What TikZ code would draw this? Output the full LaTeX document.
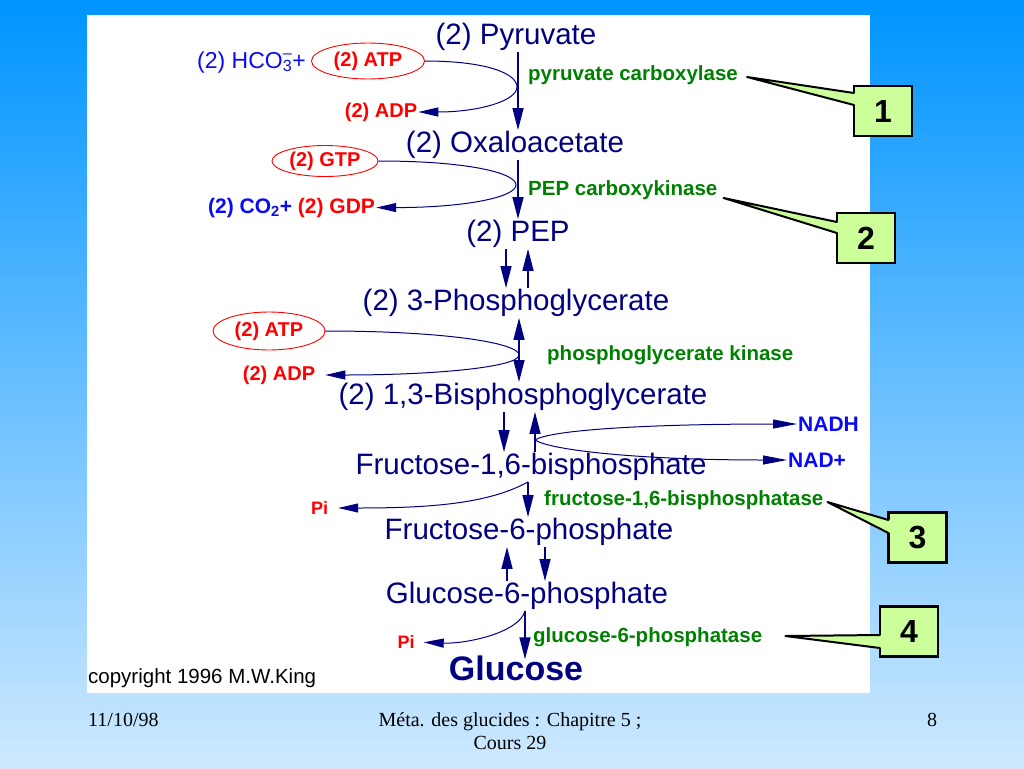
\documentclass[tikz,border=0pt]{standalone}
\usepackage{fontspec}
\setmainfont{Liberation Serif}
\setsansfont{Liberation Sans}
\usepackage{tikz}
\usetikzlibrary{calc}
\usetikzlibrary{arrows.meta}
\usetikzlibrary{shapes.geometric}
\definecolor{skytop}{RGB}{0, 148, 255}
\definecolor{skybottom}{RGB}{206, 233, 255}
\definecolor{navyink}{RGB}{0, 0, 128}
\definecolor{enzgreen}{RGB}{0, 128, 0}
\definecolor{cofred}{RGB}{255, 0, 0}
\definecolor{cofblue}{RGB}{10, 10, 245}
\definecolor{calloutlime}{RGB}{204, 255, 153}

\tikzset{
    metab/.style    = {text=navyink, inner sep=1pt, font=\sffamily\fontsize{29.5}{32}\selectfont},
    enzyme/.style   = {text=enzgreen, inner sep=1pt, anchor=west, font=\sffamily\bfseries\fontsize{20.5}{24}\selectfont},
    cofactor/.style = {text=cofred, inner sep=1pt, font=\sffamily\bfseries\fontsize{20}{24}\selectfont},
    cofoval/.style  = {cofactor, ellipse, draw=cofred, line width=0.9pt, inner sep=0pt},
    carrier/.style  = {text=cofblue, inner sep=1pt, font=\sffamily\bfseries\fontsize{21}{24}\selectfont},
    fwd/.style      = {draw=navyink, line width=1.4pt, -{Triangle[length=22pt,width=11pt]}},
    twoway/.style   = {draw=navyink, line width=1.4pt, {Triangle[length=22pt,width=11pt]}-{Triangle[length=22pt,width=11pt]}},
    sidearr/.style  = {draw=navyink, line width=1pt, -{Triangle[length=20pt,width=9pt]}},
    sidepair/.style = {draw=navyink, line width=1pt, {Triangle[length=24pt,width=9pt]}-{Triangle[length=24pt,width=9pt]}},
    numbox/.style   = {draw=black, fill=calloutlime, line width=2.2pt, minimum width=58pt, minimum height=50pt, inner sep=0pt, font=\sffamily\bfseries\fontsize{32}{36}\selectfont},
    wedgeline/.style= {draw=black, line width=2pt, line join=round, line cap=round}
}

\begin{document}
\begin{tikzpicture}[x=1pt, y=-1pt]
    \useasboundingbox (0,0) rectangle (1024,768);
    \shade[top color=skytop, bottom color=skybottom] (0,0) rectangle (1024,768);
    \fill[white]                                     (87,15) rectangle (870,693);

    \node[metab] (pyr) at (516,37)  {(2) Pyruvate};
    \node[metab] (oxa) at (515,145) {(2) Oxaloacetate};
    \node[metab] (pep) at (518,234) {(2) PEP};
    \node[metab] (pga) at (516,303) {(2) 3-Phosphoglycerate};
    \node[metab] (bpg) at (523,397) {(2) 1,3-Bisphosphoglycerate};
    \node[metab] (fbp) at (531,467) {Fructose-1,6-bisphosphate};
    \node[metab] (f6p) at (529,532) {Fructose-6-phosphate};
    \node[metab] (g6p) at (527,596) {Glucose-6-phosphate};
    \node[metab, font=\sffamily\bfseries\fontsize{34}{36}\selectfont] (glc) at (516,668) {Glucose};

    \node[enzyme] (pc)     at (527,75)  {pyruvate carboxylase};
    \node[enzyme] (pepck)  at (527,190) {PEP carboxykinase};
    \node[enzyme] (pgk)    at (546,355) {phosphoglycerate kinase};
    \node[enzyme] (fbpase) at (543,500) {fructose-1,6-bisphosphatase};
    \node[enzyme] (gpase)  at (532,637) {glucose-6-phosphatase};

    \node[carrier, font=\sffamily\fontsize{23}{24}\selectfont, anchor=base west] (hco) at (196,68) {(2) HCO\rlap{\textsuperscript{--}}\textsubscript{3}+};
    \node[cofoval, minimum width=113pt, minimum height=36pt] (atp1) at (368,61)  {(2) ATP};
    \node[cofactor]                                          (adp1) at (381,112) {(2) ADP};
    \node[cofoval, minimum width=106pt, minimum height=31pt] (gtp)  at (325,161) {(2) GTP};
    \node[carrier, anchor=base west] (gdp) at (207,213) {(2) CO\textsubscript{2}+ \textcolor{cofred}{(2) GDP}};
    \node[cofoval, minimum width=112pt, minimum height=38pt] (atp2) at (269,331) {(2) ATP};
    \node[cofactor]                                          (adp2) at (279,375) {(2) ADP};
    \node[cofactor, font=\sffamily\bfseries\fontsize{18}{20}\selectfont] (pi1) at (319.5,508) {Pi};
    \node[cofactor, font=\sffamily\bfseries\fontsize{18}{20}\selectfont] (pi2) at (406,642)   {Pi};
    \node[carrier, anchor=west] (nadh) at (797,424) {NADH};
    \node[carrier, anchor=west] (nadp) at (787,460) {NAD+};

    \draw[fwd]    (pyr.south -| 518,0) -- (oxa.north -| 518,0);
    \draw[fwd]    (oxa.south -| 518,0) -- (pep.north -| 518,0);
    \draw[fwd]    (pep.south -| 506,0) -- (pga.north -| 506,0);
    \draw[fwd]    (pga.north -| 528,0) -- (pep.south -| 528,0);
    \draw[twoway] (pga.south -| 519,0) -- (bpg.north -| 519,0);
    \draw[fwd]    (bpg.south -| 504,0) -- (fbp.north -| 504,0);
    \draw[fwd]    (fbp.north -| 535,0) -- (bpg.south -| 535,0);
    \draw[fwd]    (fbp.south -| 528,0) -- (f6p.north -| 528,0);
    \draw[fwd]    (g6p.north -| 507,0) -- (f6p.south -| 507,0);
    \draw[fwd]    (f6p.south -| 545,0) -- (g6p.north -| 545,0);
    \draw[fwd, shorten >=-5pt] (g6p.south -| 525,0) -- (glc.north -| 525,0);

    \coordinate (hpA) at (517,87);
    \coordinate (hpB) at (516,185);
    \coordinate (hpC) at (519,355);
    \coordinate (hpD) at (535,440);
    \draw[sidearr] (atp1.east) .. controls +(60,0) and +(0,-14) .. (hpA) .. controls +(0,14) and +(60,0) .. (adp1.east);
    \draw[sidearr] (gtp.east) .. controls +(90,0) and +(0,-12) .. (hpB) .. controls +(0,12) and +(90,0) .. (gdp.east);
    \draw[sidearr, shorten >=9pt] (atp2.east) .. controls +(120,0) and +(0,-12) .. (hpC) .. controls +(0,12) and +(120,0) .. (adp2.east);
    \draw[sidepair] (nadh.west) .. controls +(-150,0) and +(15,-10) .. (hpD) .. controls +(15,10) and +(-150,0) .. (nadp.west);
    \draw[sidearr, shorten >=9pt] (fbp.south -| 528,0) .. controls +(-40,22) and +(100,0) .. (pi1.east);
    \draw[sidearr, shorten >=8pt] (g6p.south -| 525,0) .. controls +(-6,22) and +(50,2) .. (pi2.east);

    \node[numbox] (c1) at (883,111)     {1};
    \node[numbox] (c2) at (866,238)     {2};
    \node[numbox] (c3) at (917.5,537.5) {3};
    \node[numbox] (c4) at (909,631.5)   {4};
    \coordinate (t1) at ($(pc.east)+(8,2)$);
    \coordinate (t2) at ($(pepck.east)+(5,8)$);
    \coordinate (t3) at ($(fbpase.east)+(3,2)$);
    \coordinate (t4) at ($(gpase.east)+(22,-1)$);
    \fill[calloutlime]  (t1) -- ($(c1.west)+(3,-18)$)   -- ($(c1.west)+(3,-6)$)   -- cycle;
    \draw[wedgeline]    ($(c1.west)+(1,-18)$)   -- (t1) -- ($(c1.west)+(1,-6)$);
    \fill[calloutlime]  (t2) -- ($(c2.west)+(3,-16)$)   -- ($(c2.west)+(3,-5)$)   -- cycle;
    \draw[wedgeline]    ($(c2.west)+(1,-16)$)   -- (t2) -- ($(c2.west)+(1,-5)$);
    \fill[calloutlime]  (t3) -- ($(c3.west)+(3,-17.5)$) -- ($(c3.west)+(3,-4.5)$) -- cycle;
    \draw[wedgeline]    ($(c3.west)+(1,-17.5)$) -- (t3) -- ($(c3.west)+(1,-4.5)$);
    \fill[calloutlime]  (t4) -- ($(c4.west)+(3,3.5)$)   -- ($(c4.west)+(3,16.5)$)  -- cycle;
    \draw[wedgeline]    ($(c4.west)+(1,3.5)$)   -- (t4) -- ($(c4.west)+(1,16.5)$);

    \node[anchor=west, inner sep=0pt, font=\sffamily\fontsize{20.5}{24}\selectfont] (copy) at (88,678) {copyright 1996 M.W.King};
    \node[anchor=west, inner sep=0pt, font=\fontsize{20}{23}\selectfont] (date) at (88,720) {11/10/98};
    \node[align=center, inner sep=0pt, font=\fontsize{20}{23}\selectfont] (title) at (510,731) {Méta. des glucides : Chapitre 5 ;\\Cours 29};
    \node[inner sep=0pt, font=\fontsize{20}{23}\selectfont] (page) at (932,720) {8};
\end{tikzpicture}
\end{document}
